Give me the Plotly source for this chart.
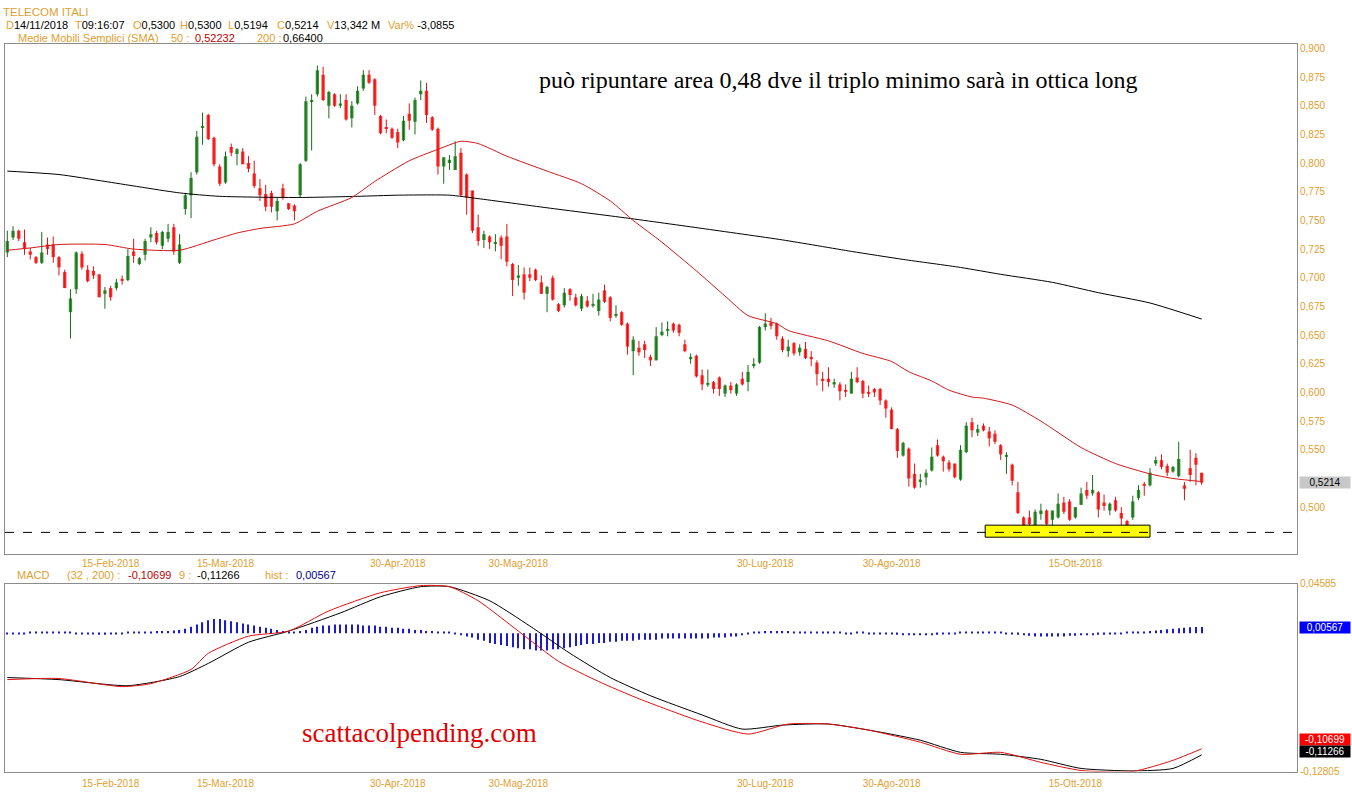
import numpy as np
import pandas as pd
import plotly.graph_objects as go

# ---------------- data ----------------
holidays = ["2018-03-30", "2018-04-02", "2018-05-01", "2018-08-15"]
dates = [d for d in pd.bdate_range("2018-01-22", "2018-11-14") if d.strftime("%Y-%m-%d") not in holidays]
date_str = [d.strftime("%Y-%m-%d") for d in dates]

opens = [0.722,0.735,0.741,0.731,0.723,0.718,0.713,0.729,0.729,0.718,
         0.705,0.670,0.690,0.721,0.707,0.706,0.703,0.686,0.691,0.691,
         0.699,0.698,0.723,0.712,0.720,0.735,0.739,0.728,0.734,0.744,
         0.713,0.760,0.772,0.792,0.831,0.842,0.822,0.797,0.783,0.814,
         0.808,0.810,0.800,0.791,0.778,0.773,0.774,0.758,0.778,0.765,
         0.763,0.772,0.802,0.854,0.860,0.877,0.850,0.860,0.850,0.855,
         0.839,0.852,0.865,0.877,0.873,0.841,0.831,0.830,0.827,0.820,
         0.843,0.836,0.860,0.863,0.840,0.830,0.797,0.800,0.794,0.809,
         0.790,0.776,0.744,0.733,0.736,0.730,0.735,0.736,0.712,0.700,
         0.703,0.703,0.707,0.696,0.686,0.700,0.677,0.676,0.690,0.683,
         0.673,0.680,0.676,0.671,0.689,0.683,0.667,0.670,0.660,0.636,
         0.639,0.642,0.631,0.628,0.650,0.654,0.660,0.659,0.642,0.629,
         0.632,0.615,0.607,0.609,0.613,0.599,0.606,0.599,0.612,0.609,
         0.623,0.626,0.657,0.661,0.660,0.647,0.636,0.643,0.635,0.638,
         0.631,0.626,0.612,0.612,0.607,0.607,0.602,0.599,0.613,0.610,
         0.600,0.603,0.603,0.593,0.585,0.568,0.545,0.551,0.529,0.522,
         0.526,0.532,0.554,0.544,0.539,0.538,0.524,0.548,0.574,0.565,
         0.571,0.566,0.564,0.554,0.544,0.537,0.513,0.491,0.491,0.484,
         0.494,0.497,0.489,0.491,0.504,0.505,0.491,0.502,0.515,0.512,
         0.513,0.504,0.497,0.506,0.495,0.488,0.491,0.508,0.520,0.519,
         0.538,0.541,0.536,0.531,0.527,0.519,0.534,0.543,0.5300]
highs = [0.741,0.745,0.742,0.742,0.726,0.719,0.740,0.735,0.736,0.719,
         0.707,0.690,0.723,0.723,0.711,0.710,0.703,0.692,0.693,0.699,
         0.702,0.725,0.734,0.718,0.734,0.744,0.741,0.741,0.747,0.747,
         0.738,0.774,0.792,0.828,0.844,0.843,0.823,0.799,0.810,0.817,
         0.813,0.813,0.806,0.802,0.786,0.781,0.776,0.770,0.782,0.765,
         0.764,0.800,0.858,0.860,0.885,0.884,0.863,0.861,0.860,0.860,
         0.854,0.867,0.881,0.881,0.874,0.842,0.838,0.831,0.830,0.841,
         0.852,0.857,0.872,0.870,0.841,0.831,0.805,0.807,0.819,0.813,
         0.791,0.776,0.755,0.741,0.737,0.738,0.737,0.747,0.713,0.711,
         0.709,0.709,0.708,0.702,0.693,0.702,0.678,0.691,0.691,0.686,
         0.686,0.684,0.686,0.687,0.694,0.684,0.676,0.671,0.661,0.649,
         0.645,0.645,0.633,0.657,0.661,0.662,0.661,0.660,0.646,0.634,
         0.633,0.620,0.620,0.610,0.614,0.607,0.609,0.608,0.618,0.624,
         0.630,0.658,0.669,0.665,0.661,0.649,0.646,0.644,0.642,0.644,
         0.636,0.628,0.618,0.622,0.612,0.609,0.607,0.618,0.622,0.611,
         0.606,0.604,0.604,0.594,0.587,0.569,0.557,0.552,0.538,0.529,
         0.533,0.552,0.559,0.545,0.541,0.538,0.554,0.574,0.578,0.572,
         0.573,0.570,0.567,0.555,0.548,0.538,0.522,0.492,0.497,0.498,
         0.503,0.498,0.497,0.512,0.509,0.507,0.500,0.517,0.522,0.528,
         0.514,0.511,0.504,0.509,0.500,0.489,0.510,0.519,0.522,0.534,
         0.544,0.546,0.538,0.536,0.557,0.522,0.550,0.547,0.5300]
lows = [0.718,0.733,0.732,0.720,0.716,0.712,0.712,0.720,0.713,0.702,
        0.691,0.647,0.686,0.707,0.696,0.699,0.683,0.673,0.680,0.689,
        0.694,0.697,0.713,0.711,0.715,0.731,0.729,0.725,0.731,0.720,
        0.712,0.755,0.752,0.790,0.816,0.820,0.797,0.780,0.782,0.806,
        0.798,0.799,0.792,0.778,0.767,0.758,0.757,0.750,0.768,0.759,
        0.750,0.770,0.801,0.811,0.858,0.854,0.839,0.849,0.848,0.837,
        0.831,0.851,0.863,0.869,0.842,0.825,0.826,0.821,0.813,0.819,
        0.829,0.825,0.855,0.835,0.828,0.790,0.782,0.794,0.794,0.771,
        0.755,0.739,0.728,0.726,0.725,0.723,0.716,0.710,0.684,0.693,
        0.681,0.697,0.697,0.686,0.670,0.680,0.670,0.674,0.680,0.675,
        0.671,0.674,0.674,0.667,0.678,0.662,0.665,0.658,0.633,0.615,
        0.632,0.630,0.623,0.628,0.649,0.649,0.652,0.649,0.635,0.625,
        0.613,0.602,0.605,0.599,0.597,0.596,0.599,0.597,0.606,0.601,
        0.621,0.625,0.654,0.655,0.646,0.635,0.631,0.632,0.632,0.629,
        0.623,0.606,0.601,0.605,0.604,0.593,0.596,0.599,0.608,0.595,
        0.596,0.596,0.589,0.578,0.568,0.543,0.544,0.518,0.516,0.517,
        0.519,0.531,0.544,0.531,0.531,0.525,0.523,0.547,0.561,0.562,
        0.566,0.553,0.555,0.541,0.529,0.519,0.494,0.477,0.480,0.477,
        0.489,0.480,0.480,0.490,0.494,0.488,0.490,0.502,0.507,0.510,
        0.491,0.497,0.493,0.496,0.481,0.477,0.489,0.506,0.510,0.518,
        0.536,0.533,0.527,0.530,0.526,0.506,0.522,0.519,0.5194]
closes = [0.732,0.741,0.734,0.725,0.720,0.713,0.722,0.725,0.718,0.709,
          0.691,0.682,0.722,0.709,0.697,0.702,0.683,0.689,0.683,0.696,
          0.698,0.719,0.719,0.717,0.732,0.738,0.731,0.740,0.740,0.723,
          0.729,0.772,0.787,0.823,0.832,0.821,0.799,0.782,0.806,0.809,
          0.812,0.799,0.795,0.780,0.772,0.762,0.762,0.767,0.770,0.760,
          0.758,0.799,0.854,0.855,0.881,0.855,0.862,0.850,0.852,0.838,
          0.850,0.863,0.877,0.870,0.850,0.826,0.830,0.822,0.818,0.837,
          0.837,0.855,0.863,0.842,0.829,0.797,0.805,0.803,0.806,0.772,
          0.770,0.741,0.732,0.738,0.731,0.731,0.728,0.714,0.698,0.702,
          0.687,0.700,0.698,0.686,0.692,0.681,0.671,0.687,0.685,0.676,
          0.684,0.675,0.676,0.681,0.679,0.665,0.668,0.659,0.640,0.646,
          0.635,0.637,0.628,0.649,0.653,0.654,0.654,0.652,0.636,0.631,
          0.614,0.607,0.608,0.603,0.603,0.606,0.602,0.607,0.607,0.618,
          0.625,0.657,0.660,0.658,0.649,0.637,0.640,0.634,0.639,0.630,
          0.629,0.616,0.610,0.609,0.609,0.601,0.601,0.612,0.609,0.599,
          0.599,0.600,0.593,0.586,0.568,0.549,0.556,0.525,0.517,0.524,
          0.530,0.544,0.545,0.540,0.533,0.526,0.550,0.571,0.567,0.568,
          0.567,0.560,0.557,0.546,0.545,0.523,0.495,0.482,0.485,0.496,
          0.497,0.485,0.497,0.503,0.496,0.489,0.500,0.512,0.510,0.515,
          0.498,0.501,0.503,0.497,0.490,0.483,0.505,0.515,0.519,0.530,
          0.541,0.535,0.530,0.535,0.542,0.516,0.528,0.537,0.5214]

# moving averages (candle position, value)
sma50_pos = [0, 4, 9, 17, 22, 30, 36, 40, 44, 50, 54, 60, 64, 70, 75, 79, 82, 87, 94, 100,
             105, 109, 114, 120, 125, 129, 134, 136, 143, 149, 154, 157, 161, 164, 168, 170,
             175, 180, 187, 193, 199, 203, 208]
sma50_val = [0.724, 0.726, 0.729, 0.729, 0.725, 0.724, 0.733, 0.739, 0.743, 0.747, 0.758, 0.770,
             0.784, 0.802, 0.812, 0.819, 0.817, 0.806, 0.793, 0.782, 0.767, 0.750, 0.731, 0.706,
             0.684, 0.667, 0.660, 0.654, 0.645, 0.634, 0.627, 0.618, 0.610, 0.602, 0.596, 0.595,
             0.589, 0.575, 0.552, 0.538, 0.529, 0.525, 0.52232]
sma200_pos = [0, 9, 17, 30, 37, 51, 61, 68, 77, 82, 94, 108, 121, 135, 147, 156, 166, 173,
              182, 190, 199, 208]
sma200_val = [0.793, 0.790, 0.784, 0.774, 0.771, 0.770, 0.771, 0.772, 0.772, 0.769, 0.761, 0.752,
              0.743, 0.733, 0.723, 0.716, 0.709, 0.703, 0.696, 0.687, 0.678, 0.664]

macd_pos = [0, 9, 20, 25, 32, 35, 42, 49, 56, 65, 72, 77, 82, 89, 96, 103, 110, 121, 129, 136,
            143, 150, 159, 166, 173, 180, 187, 196, 203, 208]
macd_val = [-0.0430, -0.0420, -0.0495, -0.0467, -0.0336, -0.0187, -0.0028, 0.0019, 0.0206, 0.0374,
            0.0440, 0.0430, 0.0300, 0.0019, -0.0261, -0.0448, -0.0607, -0.0822, -0.0934, -0.0841,
            -0.0841, -0.0897, -0.1009, -0.1121, -0.1103, -0.1196, -0.1271, -0.1280, -0.1177, -0.10699]
signal_pos = [0, 9, 21, 30, 35, 42, 49, 58, 65, 72, 77, 84, 91, 98, 105, 112, 121, 128, 135,
              143, 152, 159, 166, 173, 180, 187, 196, 203, 208]
signal_val = [-0.0411, -0.0430, -0.0486, -0.0402, -0.0280, -0.0084, 0.0019, 0.0187, 0.0337, 0.0430,
              0.0430, 0.0300, 0.0066, -0.0187, -0.0411, -0.0579, -0.0757, -0.0888, -0.0851,
              -0.0841, -0.0916, -0.0991, -0.1103, -0.1121, -0.1168, -0.1252, -0.1275, -0.1252, -0.11266]
hist_val = [-0.001,-0.001,-0.001,-0.0005,0,0,0.0005,0.0005,0.001,0.001,
            0.0005,0,-0.0005,-0.001,-0.001,-0.001,-0.0015,-0.0015,-0.001,-0.001,
            -0.0005,0,0.0005,0.001,0.001,0.0015,0.002,0.002,0.002,0.0025,
            0.003,0.004,0.006,0.008,0.010,0.012,0.013,0.013,0.012,0.011,
            0.010,0.009,0.008,0.007,0.006,0.005,0.004,0.003,0.002,0.001,
            0.001,0.002,0.003,0.005,0.006,0.007,0.007,0.008,0.008,0.008,
            0.008,0.008,0.007,0.007,0.007,0.006,0.006,0.005,0.005,0.004,
            0.004,0.003,0.003,0.002,0.002,0.001,0.0005,0,-0.001,-0.002,
            -0.003,-0.004,-0.006,-0.007,-0.009,-0.010,-0.011,-0.012,-0.013,-0.014,
            -0.015,-0.015,-0.016,-0.016,-0.016,-0.015,-0.015,-0.014,-0.013,-0.012,
            -0.011,-0.010,-0.010,-0.009,-0.009,-0.008,-0.008,-0.007,-0.007,-0.007,
            -0.006,-0.006,-0.006,-0.006,-0.005,-0.005,-0.005,-0.005,-0.005,-0.005,
            -0.005,-0.005,-0.005,-0.004,-0.004,-0.004,-0.003,-0.003,-0.002,-0.001,
            0,0.001,0.002,0.002,0.002,0.002,0.002,0.0015,0.001,0.001,
            0.001,0.0005,0.0005,0,0,0,-0.0005,-0.0005,0,0,
            -0.0005,-0.0005,-0.001,-0.001,-0.001,-0.0015,-0.002,-0.002,-0.002,-0.002,
            -0.002,-0.002,-0.0015,-0.001,-0.001,-0.0005,0,0.0005,0.001,0.001,
            0.001,0.001,0.0005,0,-0.0005,-0.001,-0.0015,-0.002,-0.0025,-0.003,
            -0.003,-0.003,-0.003,-0.003,-0.003,-0.0025,-0.0025,-0.002,-0.002,-0.002,
            -0.0015,-0.0015,-0.001,-0.001,-0.0005,0,0.0005,0.001,0.0015,0.002,
            0.0025,0.003,0.0035,0.004,0.0045,0.005,0.0055,0.0056,0.00567]

tick_dates = ["2018-02-15", "2018-03-15", "2018-04-30", "2018-05-30", "2018-07-30", "2018-08-30", "2018-10-15"]
tick_labels = ["15-Feb-2018", "15-Mar-2018", "30-Apr-2018", "30-Mag-2018", "30-Lug-2018", "30-Ago-2018", "15-Ott-2018"]
price_ticks = [0.500, 0.550, 0.575, 0.600, 0.625, 0.650, 0.675, 0.700, 0.725, 0.750,
               0.775, 0.800, 0.825, 0.850, 0.875, 0.900]
support_level = 0.478
last_close = 0.5214
macd_last, signal_last, hist_last = -0.10699, -0.11266, 0.00567
macd_top, macd_bottom = 0.04585, -0.12805

# ---------------- figure ----------------
W, H = 1352, 800
ORANGE = "#e0a030"
GRAY = "#8c8c8c"
FONT = "Liberation Sans, Arial, sans-serif"
SERIF = "Liberation Serif, Times New Roman, serif"

def px(x):
    return x / W

def vy(y):
    # target screen row -> layout row (compensates the capture's vertical fit)
    return (y - 4.1) / 0.988

def py(y):
    return 1 - vy(y) / H

O = np.array(opens); Hh = np.array(highs); L = np.array(lows); C = np.array(closes)
idx = np.arange(len(date_str))
up = C >= O
dn = ~up

fig = go.Figure()

def wicks(mask):
    xs, ys = [], []
    for i in idx[mask]:
        xs += [int(i), int(i), None]
        ys += [float(L[i]), float(Hh[i]), None]
    return xs, ys

for mask, wc, bc in [(up, "#176b17", "#3a943a"), (dn, "#e01010", "#ff3535")]:
    wx, wy = wicks(mask)
    fig.add_trace(go.Scatter(x=wx, y=wy, mode="lines", line=dict(color=wc, width=1),
                             hoverinfo="skip", xaxis="x", yaxis="y"))
    body = np.maximum(np.abs(C[mask] - O[mask]), 0.0008)
    fig.add_trace(go.Bar(x=idx[mask], y=body, base=np.minimum(O[mask], C[mask]),
                         width=0.58, marker=dict(color=bc, line=dict(width=0)),
                         xaxis="x", yaxis="y"))

smooth = dict(shape="spline", smoothing=0.6)
fig.add_trace(go.Scatter(x=sma200_pos, y=sma200_val, mode="lines",
                         line=dict(color="#000000", width=1, **smooth), xaxis="x", yaxis="y"))
fig.add_trace(go.Scatter(x=sma50_pos, y=sma50_val, mode="lines",
                         line=dict(color="#d01818", width=1, **smooth), xaxis="x", yaxis="y"))

# MACD panel
hv = np.array(hist_val)
hv_draw = np.where(np.abs(hv) < 0.0008, np.where(hv < 0, -0.0008, 0.0008), hv)
fig.add_trace(go.Bar(x=idx, y=hv_draw, width=0.2, marker=dict(color="#1a1ad0", line=dict(width=0)),
                     xaxis="x2", yaxis="y2"))
fig.add_trace(go.Scatter(x=signal_pos, y=signal_val, mode="lines",
                         line=dict(color="#000000", width=1, **smooth), xaxis="x2", yaxis="y2"))
fig.add_trace(go.Scatter(x=macd_pos, y=macd_val, mode="lines",
                         line=dict(color="#e01010", width=1, **smooth), xaxis="x2", yaxis="y2"))

tickvals = [date_str.index(d) for d in tick_dates]
xr = [-0.40, 224.6]
xdom = [px(5), px(1297)]
axis_common = dict(showgrid=False, zeroline=False, showline=True, mirror=True,
                   linecolor=GRAY, linewidth=1, ticks="")

main_top, main_bot = 43, 553          # screen rows of the price panel
p_top = 0.9 + (47.5 - main_top) / 1147.5
p_bot = 0.5 - (main_bot - 506.5) / 1147.5
macd_top_px, macd_bot_px = 583, 771

fig.update_layout(
    width=W, height=H, margin=dict(l=0, r=0, t=0, b=0),
    paper_bgcolor="white", plot_bgcolor="white", showlegend=False, barmode="overlay",
    font=dict(family=FONT, size=10, color=ORANGE),
    xaxis=dict(domain=xdom, range=xr, anchor="y", tickvals=tickvals, ticktext=tick_labels,
               tickfont=dict(size=10, color=ORANGE), **axis_common),
    yaxis=dict(domain=[py(main_bot), py(main_top)], range=[p_bot, p_top], side="right", anchor="x",
               tickvals=price_ticks, ticktext=[f"{v:.3f}".replace(".", ",") for v in price_ticks],
               tickfont=dict(size=10, color=ORANGE), **axis_common),
    xaxis2=dict(domain=xdom, range=xr, anchor="y2", tickvals=tickvals, ticktext=tick_labels,
                tickfont=dict(size=10, color=ORANGE), ticklabelstandoff=2, **axis_common),
    yaxis2=dict(domain=[py(macd_bot_px), py(macd_top_px)], range=[macd_bottom, macd_top], side="right",
                anchor="x2", tickvals=[macd_top, macd_bottom],
                ticktext=[f"{macd_top:.5f}".replace(".", ","), f"{macd_bottom:.5f}".replace(".", ",")],
                tickfont=dict(size=10, color=ORANGE), **axis_common),
)

# support zone and dashed line
fig.add_shape(type="rect", xref="x", yref="y", x0=170.3, x1=199.0, y0=0.4738, y1=0.4843,
              fillcolor="#ffff00", line=dict(color="#000000", width=1), layer="above")
fig.add_shape(type="line", xref="x domain", yref="y", x0=0, x1=1, y0=support_level, y1=support_level,
              line=dict(color="#000000", width=1, dash="dash"), layer="above")

ann = []
def txt(x, y, text, size=11, color="#000000", family=FONT, xanchor="left"):
    ann.append(dict(x=px(x), y=py(y), xref="paper", yref="paper", text=text, showarrow=False,
                    xanchor=xanchor, yanchor="middle", borderpad=0,
                    font=dict(size=size, color=color, family=family)))

def o(s):
    return f'<span style="color:{ORANGE}">{s}</span>'

# first header line hangs from the very top edge
ann.append(dict(x=px(2), y=1, xref="paper", yref="paper", text="TELECOM ITALI", showarrow=False,
                xanchor="left", yanchor="top", borderpad=0,
                font=dict(size=11.5, color=ORANGE, family=FONT)))
y2h = 24.5
for x, lab, val in [(5, "D", "14/11/2018"), (74, "T", "09:16:07"), (132, "O", "0,5300"),
                    (179, "H", "0,5300"), (227, "L", "0,5194"), (276, "C", "0,5214"),
                    (326, "V", "13,342 M"), (387, "Var%", " -3,0855")]:
    txt(x, y2h, o(lab) + val, size=11)
y3h = 37.5
txt(17, y3h, "Medie Mobili Semplici (SMA)", size=11, color=ORANGE)
txt(170, y3h, "50 :", size=11, color=ORANGE)
txt(194, y3h, "0,52232", size=11, color="#c00000")
txt(256, y3h, "200 :", size=11, color=ORANGE)
txt(282, y3h, "0,66400", size=11, color="#000000")

ym = 574
txt(16, ym, "MACD", size=11, color=ORANGE)
txt(66, ym, "(32 , 200) :", size=11, color=ORANGE)
txt(127, ym, "-0,10699", size=11, color="#c00000")
txt(178, ym, "9 :", size=11, color=ORANGE)
txt(196, ym, "-0,11266", size=11, color="#000000")
txt(264, ym, "hist :", size=11, color=ORANGE)
txt(295, ym, "0,00567", size=11, color="#000099")

txt(838, 79, "può ripuntare area 0,48 dve il triplo minimo sarà in ottica long", size=24,
    family=SERIF, xanchor="center")
txt(419, 732, "scattacolpending.com", size=27, color="#e00000", family=SERIF, xanchor="center")

# value boxes on the right axis
def vbox(yval, yref, text, bg, fg):
    ann.append(dict(x=px(1299), y=yval, xref="paper", yref=yref, text=text, showarrow=False,
                    xanchor="left", yanchor="middle", bgcolor=bg, width=50, height=11, borderpad=0,
                    align="center", font=dict(size=10, color=fg, family=FONT)))

vbox(last_close, "y", "0,5214", "#c8c8c8", "#000000")
vbox(hist_last, "y2", "0,00567", "#0000ff", "#ffffff")
vbox(py(739), "paper", "-0,10699", "#ff0000", "#ffffff")
vbox(py(750.5), "paper", "-0,11266", "#000000", "#ffffff")

fig.update_layout(annotations=ann)

post = "document.body.style.margin='0';document.body.style.overflow='hidden';"
fig.write_html("out.html", config={"displayModeBar": False}, post_script=post)
